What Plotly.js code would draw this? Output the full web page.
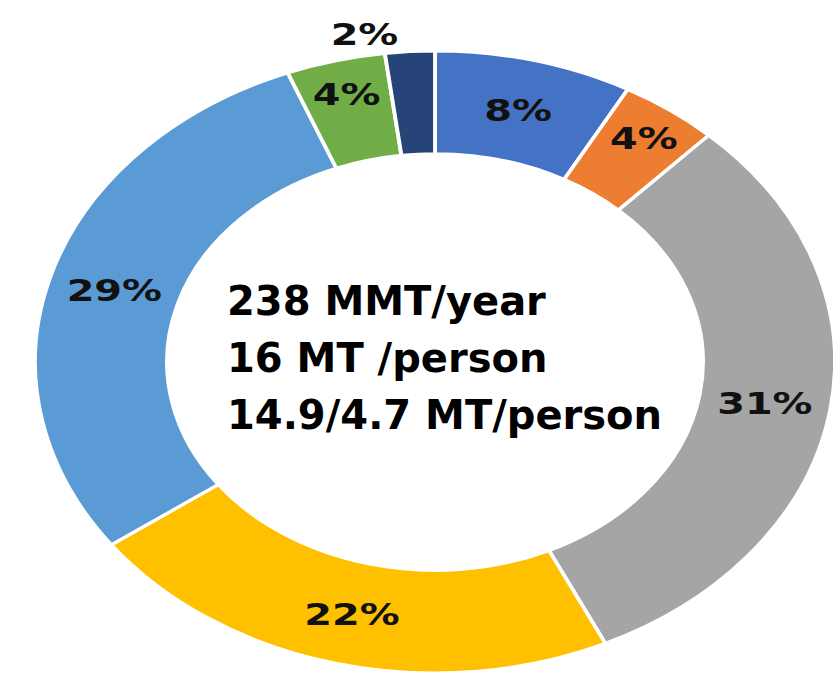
<!DOCTYPE html>
<html>
<head>
<meta charset="utf-8">
<script src="https://cdn.plot.ly/plotly-3.0.1.min.js"></script>
<style>
  html, body { margin: 0; padding: 0; background: #fff; overflow: hidden; }
  #wrap { position: relative; width: 833px; height: 673px; overflow: hidden; }
  /* the reference ring is an ellipse, so the round pie is stretched sideways */
  #ring { position: absolute; left: 55px; top: -18px; width: 760px; height: 760px;
          transform: scaleX(1.286); transform-origin: 50% 50%; }
  #center { position: absolute; left: 0; top: 0; width: 833px; height: 673px; pointer-events: none; }
</style>
</head>
<body>
<div id="wrap">
  <div id="ring"></div>
  <div id="center"></div>
</div>
<script>
// slices, clockwise from 12 o'clock
const categories = ['Slice 1', 'Slice 2', 'Slice 3', 'Slice 4', 'Slice 5', 'Slice 6', 'Slice 7']
const shares = [8, 4, 31, 22, 29, 4, 2]
const sliceColors = ['#4472C4', '#ED7D31', '#A5A5A5', '#FFC000', '#5B9BD5', '#70AD47', '#264478']
const labelPlaces = ['inside', 'inside', 'inside', 'inside', 'inside', 'inside', 'outside']

// text in the hole
const centerLines = ['238 MMT/year', '16 MT /person', '14.9/4.7 MT/person']

const labelFont = { family: 'DejaVu Sans', size: 31, weight: 'bold', color: '#111' }

const donut = {
  type: 'pie',
  labels: categories,
  values: shares,
  sort: false,
  direction: 'clockwise',
  hole: 0.67,
  marker: { colors: sliceColors, line: { color: '#fff', width: 3 } },
  texttemplate: '%{value}%',
  textposition: labelPlaces,
  insidetextorientation: 'horizontal',
  textfont: labelFont,
  insidetextfont: labelFont,
  outsidetextfont: labelFont,
  hoverinfo: 'skip'
}

Plotly.newPlot('ring', [donut], {
  width: 760,
  height: 760,
  margin: { l: 69, r: 69, t: 69, b: 69 },
  showlegend: false,
  paper_bgcolor: 'rgba(0,0,0,0)'
}, { displayModeBar: false, staticPlot: true })

// center text drawn unstretched on top
const lineY = [301, 358, 415]
const notes = centerLines.map((t, i) => ({
  text: t,
  xref: 'paper', yref: 'paper',
  x: 225 / 833, y: 1 - lineY[i] / 673,
  xanchor: 'left', yanchor: 'middle',
  showarrow: false,
  font: { family: 'DejaVu Sans', size: 40, weight: 'bold', color: '#000' }
}))

Plotly.newPlot('center', [], {
  width: 833,
  height: 673,
  margin: { l: 0, r: 0, t: 0, b: 0 },
  paper_bgcolor: 'rgba(0,0,0,0)',
  plot_bgcolor: 'rgba(0,0,0,0)',
  xaxis: { visible: false },
  yaxis: { visible: false },
  annotations: notes
}, { displayModeBar: false, staticPlot: true })
</script>
</body>
</html>
